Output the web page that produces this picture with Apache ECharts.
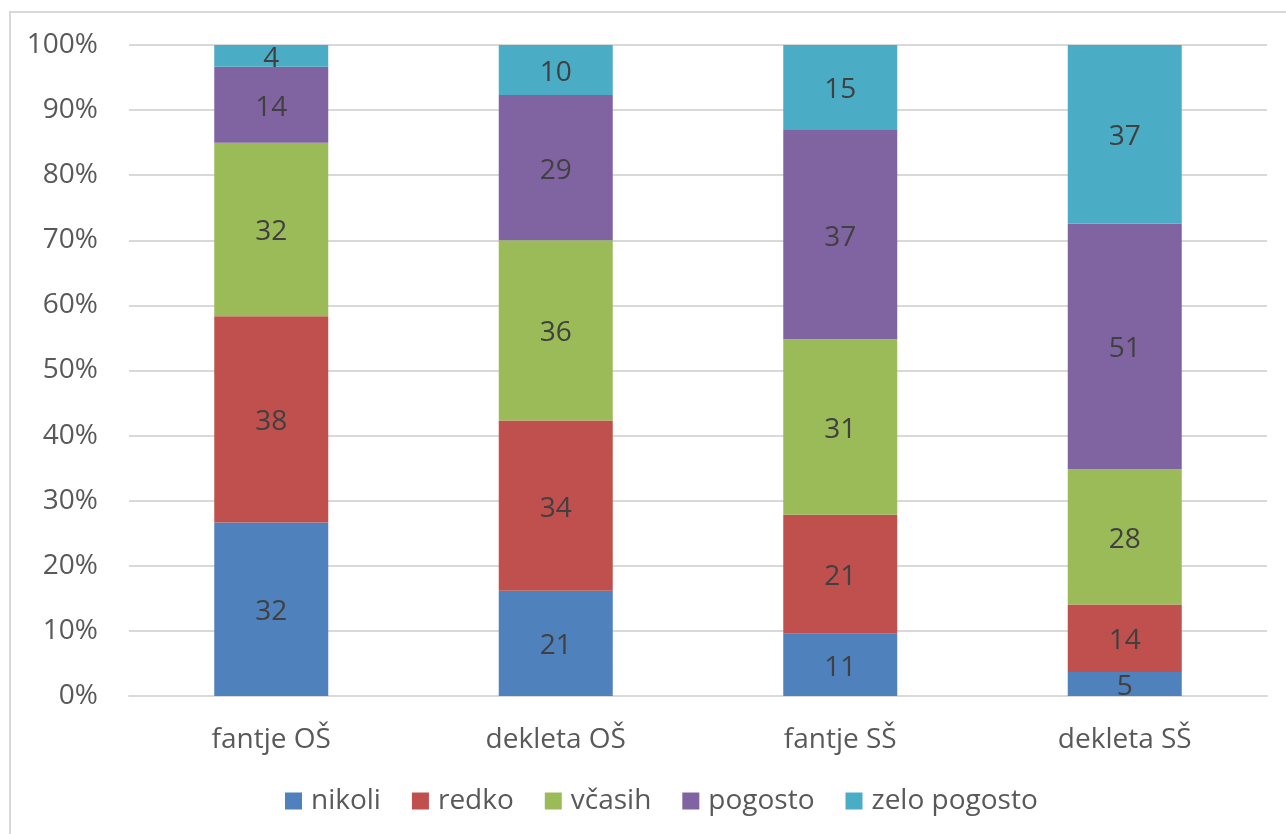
<!DOCTYPE html>
<html>
<head>
<meta charset="utf-8">
<script src="https://cdn.jsdelivr.net/npm/echarts@6/dist/echarts.min.js"></script>
<style>
  html, body { margin: 0; padding: 0; background: #fff; }
  #chart { width: 1286px; height: 834px; }
</style>
</head>
<body>
<div id="chart"></div>
<script>
// Groups and answer frequencies (counts per group)
const categories = ['fantje OŠ', 'dekleta OŠ', 'fantje SŠ', 'dekleta SŠ'];
const seriesNames = ['nikoli', 'redko', 'včasih', 'pogosto', 'zelo pogosto'];
const nikoli = [32, 21, 11, 5];
const redko = [38, 34, 21, 14];
const vcasih = [32, 36, 31, 28];
const pogosto = [14, 29, 37, 51];
const zeloPogosto = [4, 10, 15, 37];
const colors = ['#4F81BD', '#C0504D', '#9BBB59', '#8064A2', '#4BACC6'];

const counts = [nikoli, redko, vcasih, pogosto, zeloPogosto];
const totals = categories.map((_, i) => counts.reduce((s, arr) => s + arr[i], 0));

const FONT = '"Open Sans", "DejaVu Sans", sans-serif';

// Each segment is drawn as its share of the group total; the label shows the count
const series = counts.map((arr, k) => ({
  name: seriesNames[k],
  type: 'bar',
  stack: 'total',
  barWidth: 114,
  itemStyle: { color: colors[k] },
  label: {
    show: true,
    position: 'inside',
    offset: [0, 3],
    fontFamily: FONT,
    fontSize: 28,
    color: '#404040',
    formatter: p => String(arr[p.dataIndex])
  },
  data: arr.map((v, i) => ({ value: v / totals[i] * 100 }))
}));

const chart = echarts.init(document.getElementById('chart'), null, { renderer: 'canvas' });
chart.setOption({
  animation: false,
  color: colors,
  graphic: [{
    type: 'rect',
    shape: { x: 10, y: 12, width: 1300, height: 850 },
    style: { fill: 'none', stroke: '#d9d9d9', lineWidth: 2 },
    silent: true
  }],
  grid: { left: 129, right: 19, top: 45, bottom: 138, containLabel: false },
  legend: {
    bottom: 14,
    left: 280,
    icon: 'rect',
    itemWidth: 17,
    itemHeight: 17,
    itemGap: 31,
    textStyle: { fontFamily: FONT, fontSize: 28, color: '#595959', padding: [0, 0, 0, 4] },
    data: seriesNames
  },
  xAxis: {
    type: 'category',
    data: categories,
    axisLine: { show: true, lineStyle: { color: '#d9d9d9', width: 2 } },
    axisTick: { show: false },
    axisLabel: { fontFamily: FONT, fontSize: 28, color: '#595959', margin: 30 }
  },
  yAxis: {
    type: 'value',
    min: 0,
    max: 100,
    interval: 10,
    axisLine: { show: false },
    axisTick: { show: false },
    splitLine: { lineStyle: { color: '#d9d9d9', width: 2 } },
    axisLabel: { fontFamily: FONT, fontSize: 28, color: '#595959', margin: 31, formatter: '{value}%' }
  },
  series: series
});
</script>
</body>
</html>
